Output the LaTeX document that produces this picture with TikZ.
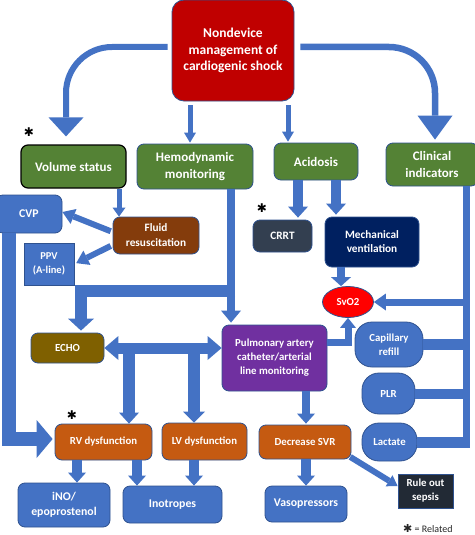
\documentclass[tikz,border=0pt]{standalone}
\usepackage{fontspec}
\setmainfont{Carlito}
\newfontfamily\symfont{DejaVu Sans}
\usetikzlibrary{arrows.meta,shapes.geometric}
\definecolor{cblue}{HTML}{4472C4}
\definecolor{cedge}{HTML}{2F528F}
\definecolor{cgreen}{HTML}{548235}
\definecolor{cmain}{HTML}{C00000}
\definecolor{cbrown}{HTML}{843C0C}
\definecolor{colive}{HTML}{7F6000}
\definecolor{cpurple}{HTML}{7030A0}
\definecolor{cred}{HTML}{FF0000}
\definecolor{cslate}{HTML}{333F50}
\definecolor{cnavy}{HTML}{002060}
\definecolor{corange}{HTML}{C55A11}
\definecolor{cdark}{HTML}{222A35}
\begin{document}
\begin{tikzpicture}[x=1pt,y=-1pt,
  box/.style={draw=cedge, line width=0.8pt, rounded corners=7pt, text=white,
    align=center, inner sep=0pt},
  sqbox/.style={box, rounded corners=0pt},
  fa/.style={font=\bfseries\fontsize{10.8}{14}\selectfont},
  fb/.style={font=\bfseries\fontsize{11.8}{15}\selectfont},
  fg/.style={font=\bfseries\fontsize{13}{17}\selectfont},
  hdr/.style={box, fill=cgreen, fg},
  ind/.style={box, fill=cblue, fa, rounded corners=17pt},
  lk/.style={draw=cblue, line width=#1pt},
  tp/.style 2 args={-{Triangle[width=#1pt,length=#2pt,line width=0pt]}},
  astk/.style={font=\symfont\fontsize{12}{12}\selectfont, inner sep=0pt}
]
\useasboundingbox (0,0) rectangle (474,535);
\fill[white] (0,0) rectangle (474,535);

% ---- nodes ----
\node[box, fill=cmain, rounded corners=12pt, minimum width=122pt, minimum height=101pt,
  font=\bfseries\fontsize{13.5}{16.5}\selectfont] (main) at (233,50.5)
  {Nondevice\\management of\\cardiogenic shock};

\node[hdr, draw=black, line width=1.2pt, minimum width=105pt, minimum height=43pt] (vol) at (73.5,166.5) {Volume status};
\node[hdr, minimum width=116pt, minimum height=45pt] (hemo) at (195,166.5) {Hemodynamic\\monitoring};
\node[hdr, minimum width=84pt, minimum height=37pt] (acid) at (316,161.5) {Acidosis};
\node[hdr, minimum width=92pt, minimum height=43pt] (clin) at (432,164.5) {Clinical\\indicators};

\node[box, fill=cblue, fb, minimum width=66pt, minimum height=38pt] (cvp) at (29,214) {CVP};
\node[box, fill=cbrown, font=\bfseries\fontsize{11.3}{15}\selectfont, minimum width=86pt, minimum height=37pt] (fluid) at (156,235.5) {Fluid\\resuscitation};
\node[sqbox, fill=cblue, font=\bfseries\fontsize{10.5}{14}\selectfont, minimum width=50pt, minimum height=42pt] (ppv) at (49,264) {PPV\\(A-line)};

\node[box, fill=cslate, font=\bfseries\fontsize{11.3}{14}\selectfont, minimum width=59pt, minimum height=32pt] (crrt) at (282.5,236) {CRRT};
\node[box, fill=cnavy, font=\bfseries\fontsize{11.3}{14}\selectfont, minimum width=94pt, minimum height=50pt] (mv) at (372,242) {Mechanical\\ventilation};
\node[ellipse, draw=cedge, line width=0.8pt, fill=cred, text=white, fa, inner sep=0pt,
  minimum width=51pt, minimum height=31pt] (svo2) at (348,302) {SvO2};

\node[box, fill=colive, fa, minimum width=73pt, minimum height=30pt] (echo) at (67.5,348) {ECHO};
\node[box, fill=cpurple, fa, minimum width=105pt, minimum height=66pt] (pac) at (274.5,358)
  {Pulmonary artery\\catheter/arterial\\line monitoring};

\node[ind, minimum width=68pt, minimum height=45pt] (cap) at (389,344.5) {Capillary\\refill};
\node[ind, minimum width=53pt, minimum height=41pt] (plr) at (388.5,393.5) {PLR};
\node[ind, minimum width=55pt, minimum height=38pt] (lac) at (389.5,442) {Lactate};

\node[box, fill=corange, fa, minimum width=97pt, minimum height=36pt] (rv) at (103.5,442) {RV dysfunction};
\node[box, fill=corange, fa, minimum width=85pt, minimum height=37pt] (lv) at (204.5,441.5) {LV dysfunction};
\node[box, fill=corange, fa, minimum width=92pt, minimum height=34pt] (dsvr) at (305,442) {Decrease SVR};

\node[box, fill=cblue, fb, minimum width=92pt, minimum height=44pt] (ino) at (64,505) {iNO/\\epoprostenol};
\node[box, fill=cblue, fb, minimum width=99pt, minimum height=37pt] (inot) at (172.5,504.5) {Inotropes};
\node[box, fill=cblue, fb, minimum width=82pt, minimum height=36pt] (vaso) at (306,504) {Vasopressors};
\node[sqbox, fill=cdark, fa, minimum width=55pt, minimum height=34pt] (ros) at (425.5,491) {Rule out\\sepsis};

\node[astk] (m1) at (29,132) {✱};
\node[astk] (m2) at (262,208) {✱};
\node[astk] (m3) at (72,415) {✱};
\node[anchor=base west, inner sep=0pt, font=\fontsize{10}{12}\selectfont, text=black!85] (leg) at (403,532.5)
  {{\symfont\fontsize{11}{11}\selectfont ✱} = Related};

% ---- connectors ----
\draw[lk=6, tp={35}{19}, rounded corners=46pt, shorten <=4pt, shorten >=8pt]
  (main.west |- 0,47) -- (66,47) -- (66,0 |- vol.north);
\draw[lk=6.5, tp={35}{24}, rounded corners=46pt, shorten <=6pt, shorten >=3pt]
  (main.east |- 0,47) -- (435,47) -- (435,0 |- clin.north);
\draw[lk=5, tp={12}{10}, shorten <=4pt, shorten >=1pt] (190,0 |- main.south) -- (190,0 |- hemo.north);
\draw[lk=5, tp={12}{10}, shorten <=4pt, shorten >=1pt] (288,0 |- main.south) -- (288,0 |- acid.north);

\draw[lk=5, tp={13}{9}] (119,0 |- vol.south) -- (119,0 |- fluid.north);
\draw[lk=6, tp={16}{12}, shorten <=2pt] (fluid.west |- 0,232) -- (cvp.east |- 0,212);
\draw[lk=6, tp={16}{12}, shorten <=2pt, shorten >=2pt] (fluid.west |- 0,245) -- (ppv.east |- 0,264);

\draw[lk=8, tp={20}{12}, shorten >=2pt] (231,0 |- hemo.south) -- (231,0 |- pac.north);
\coordinate (j1) at (235,291);
\draw[lk=12, tp={26}{12}, shorten >=2pt] (j1) -- (81,291) -- (81,0 |- echo.north);

\draw[lk=11, {Triangle[width=24pt,length=14pt,line width=0pt]}-{Triangle[width=24pt,length=14pt,line width=0pt]}]
  (echo.east) -- (pac.west |- echo.east);
\coordinate (b1) at (129,348);
\coordinate (b2) at (194,348);
\draw[lk=12, tp={20}{11}] (b1) -- (129,0 |- rv.north);
\draw[lk=12, tp={22}{11}] (b2) -- (194,0 |- lv.north);

\draw[lk=14, tp={38}{16}, shorten >=2pt] (9,0 |- cvp.south) -- (9,439) -- (rv.west |- 0,439);

\draw[lk=7, tp={16}{10}] (pac.east |- 0,342) -- (348,342) -- (svo2.south);
\draw[lk=8, tp={20}{9}] (341,0 |- mv.south) -- (341,0 |- svo2.north);
\draw[lk=10, tp={20}{11}, shorten >=2pt] (298,0 |- acid.south) -- (298,0 |- crrt.north);
\draw[lk=10, tp={20}{11}, shorten >=2pt] (336,0 |- acid.south) -- (336,0 |- mv.north);

\coordinate (cend) at (466,447.5);
\draw[lk=7] (466,0 |- clin.south) -- (cend);
\draw[lk=7, tp={17}{12}] (466,0 |- svo2.east) -- (svo2.east);
\draw[lk=11] (cap.east) -- (469.5,0 |- cap.east);
\draw[lk=10] (plr.east) -- (469.5,0 |- plr.east);
\draw[lk=11] (lac.east) -- (469.5,0 |- lac.east);

\draw[lk=8, tp={18}{10}, shorten >=1pt] (306,0 |- pac.south) -- (306,0 |- dsvr.north);
\draw[lk=10, tp={18}{10}] (77,0 |- rv.south) -- (77,0 |- ino.north);
\draw[lk=10, tp={18}{10}] (137,0 |- rv.south) -- (137,0 |- inot.north);
\draw[lk=10, tp={18}{10}] (194,0 |- lv.south) -- (194,0 |- inot.north);
\draw[lk=10, tp={18}{10}] (306,0 |- dsvr.south) -- (306,0 |- vaso.north);
\draw[lk=6, tp={13}{10}, shorten <=1pt] ([xshift=-2pt,yshift=3pt]dsvr.south east) -- (ros.west |- 0,486);
\end{tikzpicture}
\end{document}
